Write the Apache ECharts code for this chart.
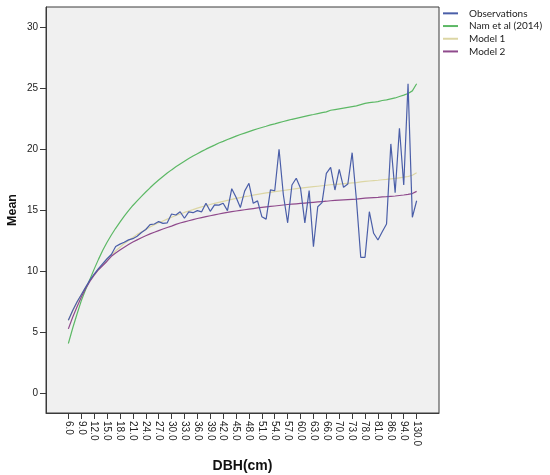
<!DOCTYPE html>
<html lang="en">
<head>
    <meta charset="utf-8">
    <title>DBH vs Mean</title>
    <script src="https://cdn.jsdelivr.net/npm/echarts@6/dist/echarts.min.js"></script>
    <style>
        html, body { margin: 0; padding: 0; background: #fff; }
        #main { width: 550px; height: 475px; }
    </style>
</head>
<body>
<div id="main"></div>

<script type="text/javascript">
    // DBH classes (cm), one per category on the x axis
    var dbh = [6,7,8,9,10,11,12,13,14,15,16,17,18,19,20,21,22,23,24,25,26,27,28,29,30,
        31,32,33,34,35,36,37,38,39,40,41,42,43,44,45,46,47,48,49,50,51,52,53,54,55,
        56,57,58,59,60,61,62,63,64,65,66,68,69,70,71,72,73,74,76,78,79,80,81,83,84,
        86,88,91,94,98,105,130];

    var observations = [6.0,6.8,7.5,8.1,8.7,9.3,9.8,10.25,10.65,11.05,11.4,12.05,12.25,12.4,12.6,12.7,12.9,13.2,13.45,
        13.85,13.9,14.1,13.95,14.0,14.72,14.64,14.91,14.37,14.9,14.83,15.0,14.9,15.6,14.94,15.47,15.45,15.6,15.0,
        16.8,16.1,15.25,16.6,17.24,15.6,15.8,14.5,14.3,16.7,16.63,20.03,16.3,
        14.0,17.1,17.65,16.83,14.0,16.64,12.04,15.32,15.65,18.06,18.55,16.69,18.39,16.91,17.18,19.75,15.87,11.17,11.17,
        14.91,13.14,12.59,13.27,13.9,20.47,16.47,21.76,17.1,25.4,14.45,15.81];

    var nam2014 = [4.1,5.35,6.5,7.6,8.5,9.35,10.2,11.0,11.75,12.4,13.0,13.55,14.05,14.55,15.0,15.42,15.8,16.17,16.53,16.87,
        17.2,17.51,17.8,18.08,18.34,18.59,18.83,19.05,19.27,19.48,19.67,19.86,20.04,20.21,20.37,20.54,20.68,20.83,20.97,21.11,
        21.24,21.36,21.48,21.6,21.71,21.82,21.92,22.03,22.12,22.22,22.31,22.4,22.49,22.57,22.65,22.73,22.81,22.88,22.96,23.03,23.1,
        23.23,23.29,23.35,23.41,23.47,23.53,23.59,23.69,23.79,23.85,23.89,23.94,24.03,24.08,24.16,24.24,24.36,24.47,24.61,24.82,25.4];

    var model1 = [6.0,6.75,7.45,8.1,8.7,9.25,9.7,10.15,10.6,11.0,11.35,11.7,12.0,12.3,12.55,12.8,13.05,13.25,13.45,13.65,
        13.85,14.0,14.15,14.3,14.45,14.6,14.72,14.85,14.97,15.08,15.2,15.3,15.4,15.5,15.6,15.68,15.76,15.84,15.92,16.0,
        16.07,16.14,16.2,16.27,16.33,16.39,16.45,16.5,16.55,16.6,16.65,16.7,16.75,16.8,16.84,16.88,16.92,16.96,17.0,17.04,17.08,
        17.12,17.15,17.18,17.21,17.24,17.27,17.3,17.35,17.4,17.43,17.46,17.49,17.53,17.56,17.6,17.64,17.69,17.74,17.8,17.9,18.1];

    var model2 = [5.3,6.25,7.1,7.9,8.6,9.2,9.7,10.15,10.5,10.85,11.25,11.52,11.77,12.0,12.22,12.42,12.6,12.78,12.94,13.09,
        13.23,13.36,13.49,13.61,13.73,13.87,13.98,14.08,14.17,14.26,14.35,14.43,14.51,14.58,14.65,14.72,14.79,14.85,14.91,14.97,
        15.02,15.07,15.12,15.17,15.22,15.26,15.3,15.34,15.38,15.42,15.46,15.5,15.53,15.56,15.59,15.62,15.65,15.68,15.71,15.74,15.77,
        15.81,15.84,15.86,15.88,15.9,15.92,15.94,15.98,16.02,16.04,16.06,16.08,16.12,16.14,16.17,16.2,16.24,16.28,16.33,16.4,16.58];

    var yTicks = [0, 5, 10, 15, 20, 25, 30];

    // every third DBH class gets a tick and a label
    var xTicks = [];
    for (var i = 0; i < dbh.length; i += 3) xTicks.push(i);

    function pairs(arr) {
        return arr.map(function (v, i) { return [i, v]; });
    }

    var myChart = echarts.init(document.getElementById('main'));

    var lineSeries = function (name, data, color, z) {
        return {
            name: name,
            type: 'line',
            data: pairs(data),
            showSymbol: false,
            symbol: 'none',
            z: z,
            lineStyle: { color: color, width: 1.2 },
            itemStyle: { color: color }
        };
    };

    myChart.setOption({
        animation: false,
        backgroundColor: '#fff',
        textStyle: { fontFamily: 'Liberation Sans, Arial, sans-serif' },
        grid: {
            left: 46, top: 7, right: 111, bottom: 62,
            outerBoundsMode: 'none',
            show: true,
            backgroundColor: '#f0f0f0',
            borderColor: '#3a3a3a',
            borderWidth: 1
        },
        legend: {
            orient: 'vertical',
            left: 443, top: 7,
            padding: 0,
            icon: 'rect',
            itemWidth: 15,
            itemHeight: 2,
            itemGap: 0,
            textStyle: {
                fontFamily: 'Lato, sans-serif',
                fontSize: 10,
                color: '#222',
                lineHeight: 12.7,
                padding: [0, 0, 0, 6]
            },
            data: ['Observations', 'Nam et al (2014)', 'Model 1', 'Model 2']
        },
        xAxis: {
            type: 'value',
            min: -5.2,
            max: 86.2,
            name: 'DBH(cm)',
            nameLocation: 'middle',
            nameGap: 46,
            nameMoveOverlap: false,
            nameTextStyle: { fontSize: 14, fontWeight: 'bold', color: '#111' },
            splitLine: { show: false },
            axisLine: { show: true, onZero: false, lineStyle: { color: '#3a3a3a' } },
            axisTick: {
                show: true, length: 6, inside: false,
                customValues: xTicks,
                lineStyle: { color: '#3a3a3a' }
            },
            axisLabel: {
                customValues: xTicks,
                rotate: -90,
                margin: 8,
                fontSize: 10,
                color: '#222',
                formatter: function (v) { return dbh[Math.round(v)].toFixed(1); }
            }
        },
        yAxis: {
            type: 'value',
            min: -1.6,
            max: 31.7,
            name: 'Mean',
            nameLocation: 'middle',
            nameGap: 27,
            nameMoveOverlap: false,
            nameTextStyle: { fontSize: 12.5, fontWeight: 'bold', color: '#111' },
            splitLine: { show: false },
            axisLine: { show: true, onZero: false, lineStyle: { color: '#3a3a3a' } },
            axisTick: {
                show: true, length: 6,
                customValues: yTicks,
                lineStyle: { color: '#3a3a3a' }
            },
            axisLabel: {
                customValues: yTicks,
                margin: 8,
                fontSize: 10,
                color: '#222'
            }
        },
        series: [
            lineSeries('Observations', observations, '#4a5ea8', 5),
            lineSeries('Nam et al (2014)', nam2014, '#5cb865', 4),
            lineSeries('Model 1', model1, '#dcd6a4', 3),
            lineSeries('Model 2', model2, '#8f4a8c', 4)
        ]
    });
</script>
</body>
</html>
